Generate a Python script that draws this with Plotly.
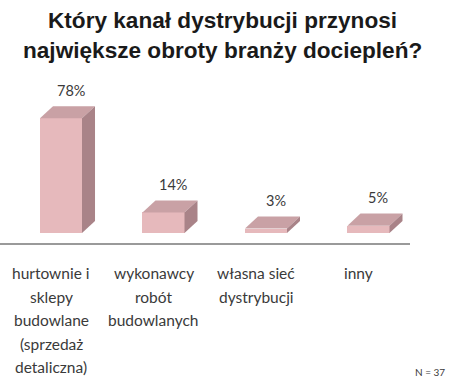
import plotly.graph_objects as go

# ---- data ----
categories = [
    ["hurtownie i", "sklepy", "budowlane", "(sprzedaż", "detaliczna)"],
    ["wykonawcy", "robót", "budowlanych"],
    ["własna sieć", "dystrybucji"],
    ["inny"],
]
values = [78, 14, 3, 5]
value_labels = ["78%", "14%", "3%", "5%"]
title_lines = ["Który kanał dystrybucji przynosi", "największe obroty branży dociepleń?"]
note = "N = 37"

# ---- style ----
FRONT = "#e6b9bc"
TOP = "#c9a1a5"
SIDE = "#a98388"
BAR_W = 0.41
BAR_OFF = -0.11        # left edge of front face relative to category centre
DX = 0.127             # 3D depth in x units
DY = 8.2               # 3D depth in y units
LABEL_FONT = "Lato"
TEXT_COLOR = "#3a3a3a"

xs = list(range(len(values)))
fig = go.Figure()

fig.add_trace(go.Bar(
    x=xs, y=values, width=BAR_W, offset=BAR_OFF,
    marker=dict(color=FRONT, line=dict(width=0)),
    hoverinfo="skip", showlegend=False,
))

for x, v in zip(xs, values):
    x0 = x + BAR_OFF
    x1 = x0 + BAR_W
    # top face
    fig.add_trace(go.Scatter(
        x=[x0, x1, x1 + DX, x0 + DX, x0], y=[v, v, v + DY, v + DY, v],
        fill="toself", fillcolor=TOP, mode="lines", line=dict(width=0),
        hoverinfo="skip", showlegend=False,
    ))
    # side face
    fig.add_trace(go.Scatter(
        x=[x1, x1 + DX, x1 + DX, x1, x1], y=[0, DY, v + DY, v, 0],
        fill="toself", fillcolor=SIDE, mode="lines", line=dict(width=0),
        hoverinfo="skip", showlegend=False,
    ))

annotations = []
# title lines
for k, line in enumerate(title_lines):
    annotations.append(dict(
        x=222 / 410, y=1, xref="paper", yref="paper", text=line, showarrow=False,
        yanchor="middle", xanchor="center", yshift=70 - 30 * k,
        font=dict(family="Liberation Sans", size=22.6, color="#1a1a1a", weight="bold"),
    ))

for x, v, t in zip(xs, values, value_labels):
    annotations.append(dict(
        x=x + BAR_OFF + BAR_W / 2 + DX / 2 + 0.03, y=v + DY, xref="x", yref="y",
        text=t, showarrow=False, yanchor="middle", yshift=16,
        font=dict(family=LABEL_FONT, size=14.5, color=TEXT_COLOR),
    ))

for x, lines in zip(xs, categories):
    for k, line in enumerate(lines):
        annotations.append(dict(
            x=x, y=0, xref="x", yref="paper", text=line, showarrow=False,
            yanchor="middle", yshift=-(30 + 23.5 * k),
            font=dict(family=LABEL_FONT, size=15.5, color=TEXT_COLOR),
        ))

annotations.append(dict(
    x=447 / 410, y=0, xref="paper", yref="paper", text=note, showarrow=False,
    yanchor="middle", yshift=-129,
    font=dict(family=LABEL_FONT, size=10, color=TEXT_COLOR),
))

fig.update_layout(
    width=470, height=384,
    margin=dict(l=0, r=60, t=90, b=141),
    paper_bgcolor="white", plot_bgcolor="white",
    xaxis=dict(range=[-0.5, 3.5], showgrid=False, zeroline=False,
               showticklabels=False, ticks="", showline=True,
               linecolor="#9a9a9a", linewidth=2, fixedrange=True),
    yaxis=dict(range=[-6.8, 97.3], showgrid=False, zeroline=False,
               showticklabels=False, ticks="", showline=False, fixedrange=True),
    bargap=0,
    annotations=annotations,
)

fig.write_html(
    "out.html",
    config={"displayModeBar": False},
    post_script="document.body.style.margin='0';document.body.style.overflow='hidden';",
)
